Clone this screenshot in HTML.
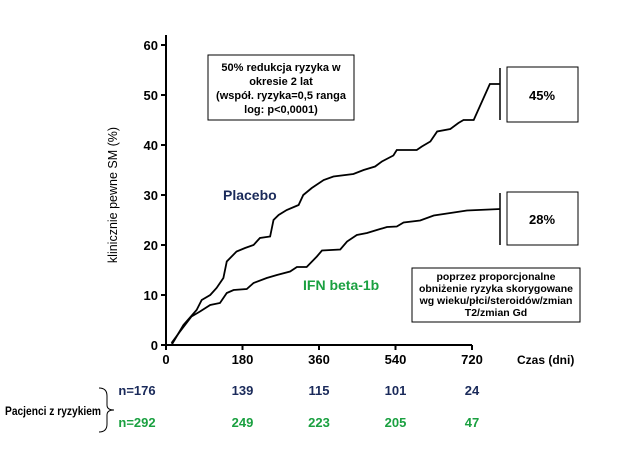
<!DOCTYPE html>
<html><head><meta charset="utf-8"><style>
body{margin:0;background:#fff;width:625px;height:469px;overflow:hidden;font-family:"Liberation Sans",sans-serif;}
svg text{font-family:"Liberation Sans",sans-serif;font-weight:bold;}
</style></head><body>
<svg id="c" width="625" height="469">
<g id="g"></g>
</svg>
<script>
const xTicks=[0,180,360,540,720];
const yTicks=[0,10,20,30,40,50,60];
const placeboX=[13,41,72,84,104,119,135,143,166,186,206,221,245,253,265,284,312,323,343,371,394,441,465,492,508,535,543,590,602,622,638,669,688,700,724,762,787];
const placeboY=[0,4,7,9,10,11.4,13.4,16.7,18.7,19.4,20,21.4,21.7,25,26,27,28,30,31.4,33,33.7,34.2,35,35.7,36.7,37.9,39,39,39.7,40.7,42.7,43.2,44.4,45,45,52.2,52.2];
const ifnX=[13,33,60,80,104,127,143,159,190,206,237,261,292,308,331,355,367,410,426,449,473,496,520,543,559,598,630,677,708,787];
const ifnY=[0.4,2.7,5.7,6.7,8,8.4,10.4,11,11.2,12.4,13.4,14,14.7,15.6,15.6,17.7,18.9,19.1,20.7,22,22.4,23,23.6,23.7,24.5,24.9,25.9,26.5,26.9,27.2];
const riskPlacebo=["n=176","139","115","101","24"];
const riskIfn=["n=292","249","223","205","47"];
const X=d=>166+d*306/720, Y=v=>345-v*5;
const NS="http://www.w3.org/2000/svg", g=document.getElementById('g');
function mk(t,a,txt){const e=document.createElementNS(NS,t);for(const k in a)e.setAttribute(k,a[k]);if(txt!=null)e.textContent=txt;g.appendChild(e);return e;}
let e;
e=mk('line',{x1:X(0),y1:Y(0),x2:X(720),y2:Y(0),stroke:'#000','stroke-width':2});


e=mk('line',{x1:X(0),y1:Y(0),x2:X(0),y2:Y(62),stroke:'#000','stroke-width':2});


xTicks.forEach(t=>{
 mk('line',{x1:X(t),y1:Y(0),x2:X(t),y2:Y(0)+5,stroke:'#000','stroke-width':2});
 e=mk('text',{x:X(t),y:364,'text-anchor':'middle','font-size':13},String(t));
 
 
});
yTicks.forEach(t=>{
 mk('line',{x1:X(0)-5,y1:Y(t),x2:X(0),y2:Y(t),stroke:'#000','stroke-width':2});
 e=mk('text',{x:X(0)-8,y:Y(t)+5,'text-anchor':'end','font-size':13},String(t));
 
 
});
function path(xs,ys){let d='M'+X(xs[0])+','+Y(ys[0]);for(let i=1;i<xs.length;i++){d+=' L'+X(xs[i])+','+Y(ys[i]);}return d;}
e=mk('path',{d:path(placeboX,placeboY),fill:'none',stroke:'#000','stroke-width':1.8});


e=mk('path',{d:path(ifnX,ifnY),fill:'none',stroke:'#000','stroke-width':1.8});


mk('line',{x1:500,y1:68,x2:500,y2:120,stroke:'#000','stroke-width':1.5});
mk('line',{x1:500,y1:193,x2:500,y2:245,stroke:'#000','stroke-width':1.5});
function box(x,y,w,h,name){e=mk('rect',{x:x,y:y,width:w,height:h,fill:'#fff',stroke:'#000','stroke-width':1});}
box(507,67,71,55,'placebo-pct-box');box(507,192,71,53,'ifn-pct-box');box(208,55,146,65,'risk-reduction-box');box(412,268,168,54,'adjustment-box');
mk('text',{x:542,y:100,'text-anchor':'middle','font-size':13},'45%');
mk('text',{x:542,y:224,'text-anchor':'middle','font-size':13},'28%');
[['50% redukcja ryzyka w',71],['okresie 2 lat',85],['(współ. ryzyka=0,5 ranga',99],['log: p<0,0001)',113]].forEach(([s,y])=>mk('text',{x:281,y:y,'text-anchor':'middle','font-size':11},s));
[['poprzez proporcjonalne',280],['obniżenie ryzyka skorygowane',292],['wg wieku/płci/steroidów/zmian',304],['T2/zmian Gd',316]].forEach(([s,y])=>mk('text',{x:496,y:y,'text-anchor':'middle','font-size':10.5},s));
e=mk('text',{x:223,y:200,'font-size':14,fill:'#1a2a5a'},'Placebo');
e=mk('text',{x:303,y:290,'font-size':14,fill:'#1aa040'},'IFN beta-1b');
e=mk('text',{x:0,y:0,'font-size':12.5,style:'font-weight:normal',transform:'translate(117,195) rotate(-90)','text-anchor':'middle'},'klinicznie pewne SM  (%)');

e=mk('text',{x:517,y:364,'font-size':12},'Czas (dni)');
riskPlacebo.forEach((s,i)=>{e=mk('text',{x:i?X(xTicks[i]):137,y:395,'text-anchor':'middle','font-size':13,fill:'#1a2a5a'},s);});
riskIfn.forEach((s,i)=>{e=mk('text',{x:i?X(xTicks[i]):137,y:427,'text-anchor':'middle','font-size':13,fill:'#1aa040'},s);});
e=mk('text',{x:5,y:415,'font-size':11.5,textLength:96,lengthAdjust:'spacingAndGlyphs'},'Pacjenci z ryzykiem');
mk('path',{d:'M99,388 Q107,388 107,396 L107,405 Q107,410 114,410 Q107,410 107,415 L107,424 Q107,432 99,432',fill:'none',stroke:'#000','stroke-width':1});
</script>
</body></html>
